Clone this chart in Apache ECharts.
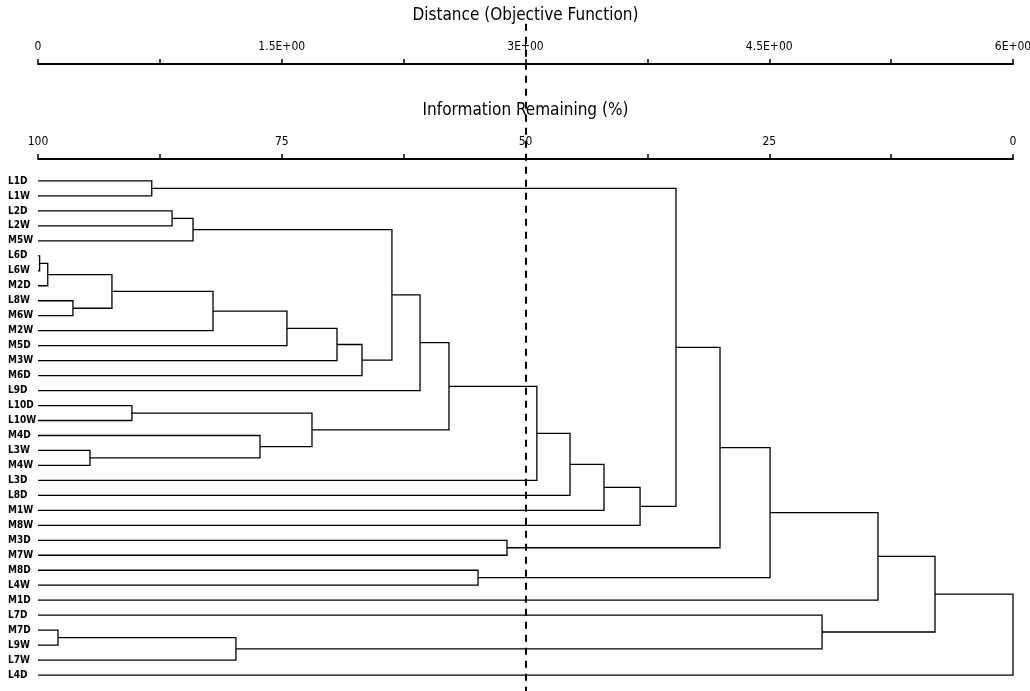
<!DOCTYPE html>
<html>
<head>
<meta charset="utf-8">
<script src="https://cdn.jsdelivr.net/npm/echarts@6/dist/echarts.min.js"></script>
<style>
html,body{margin:0;padding:0;background:#fff;}
#c{width:1030px;height:691px;}
</style>
</head>
<body>
<div id="c"></div>
<script>
// Leaves (top to bottom)
const leaves = ['L1D','L1W','L2D','L2W','M5W','L6D','L6W','M2D','L8W','M6W','M2W','M5D','M3W','M6D','L9D',
  'L10D','L10W','M4D','L3W','M4W','L3D','L8D','M1W','M8W','M3D','M7W','M8D','L4W','M1D','L7D','M7D','L9W','L7W','L4D'];
// Merges: node n<i> joins mergeA[i] and mergeB[i] at distance mergeDist[i]
const mergeA = ['L6D','n0','M7D','L8W','L3W','n1','L10D','L1D','L2D','n8','n5','n2','M4D','n10','n6','n13','n15','n9','n17','n18','M8D','M3D','n19','n22','n23','n24','n7','n26','n27','L7D','n28','n30','n31'];
const mergeB = ['L6W','M2D','L9W','M6W','M4W','n3','L10W','L1W','L2W','M5W','M2W','L7W','n4','M5D','n12','M3W','M6D','n16','L9D','n14','L4W','M7W','L3D','L8D','M1W','M8W','n25','n21','n20','n11','M1D','n29','L4D'];
const mergeDist = [0.01,0.06,0.123,0.215,0.32,0.455,0.578,0.70,0.825,0.954,1.077,1.218,1.366,1.532,1.686,1.84,1.994,2.178,2.351,2.529,2.708,2.886,3.07,3.274,3.483,3.705,3.926,4.197,4.505,4.825,5.169,5.52,6.0];
// Axis tick labels
const distTickLabels = ['0','','1.5E+00','','3E+00','','4.5E+00','','6E+00'];
const infoTickLabels = ['100','','75','','50','','25','','0'];
const cutDistance = 3.0;

const FONT = '"Liberation Sans Narrow","DejaVu Sans Condensed","Liberation Sans",sans-serif';

// build node positions
const pos = {};
leaves.forEach((n,i)=>{ pos[n] = {x:0, y:i}; });
const brackets = [];
mergeA.forEach((a,i)=>{
  const b = mergeB[i], h = mergeDist[i];
  const pa = pos[a], pb = pos[b];
  brackets.push({coords:[[pa.x,pa.y],[h,pa.y],[h,pb.y],[pb.x,pb.y]]});
  pos['n'+i] = {x:h, y:(pa.y+pb.y)/2};
});

const chart = echarts.init(document.getElementById('c'), null, {renderer:'canvas'});
const axisCommon = {
  type:'value', position:'top',
  axisLine:{show:true, onZero:false, lineStyle:{color:'#000', width:2}},
  axisTick:{show:true, inside:false, length:5, lineStyle:{color:'#000', width:1.5}},
  splitLine:{show:false},
  nameLocation:'middle',
  nameMoveOverlap:false,
  nameTextStyle:{fontFamily:FONT, fontSize:17, color:'#000'},
};
chart.setOption({
  animation:false,
  backgroundColor:'#fff',
  grid:{left:38, right:17, top:166, bottom:1, containLabel:false, outerBoundsMode:'none'},
  xAxis:[
    Object.assign({}, axisCommon, {
      min:0, max:6, interval:0.75, offset:102,
      name:'Distance (Objective Function)', nameGap:40,
      axisLabel:{fontFamily:FONT, fontSize:12, color:'#000', margin:11,
        formatter:(v)=>distTickLabels[Math.round(v/0.75)] || ''}
    }),
    Object.assign({}, axisCommon, {
      min:0, max:100, interval:12.5, inverse:true, offset:7,
      name:'Information Remaining (%)', nameGap:40,
      axisLabel:{fontFamily:FONT, fontSize:12, color:'#000', margin:11,
        formatter:(v)=>infoTickLabels[8-Math.round(v/12.5)] || ''}
    })
  ],
  yAxis:{
    type:'value', min:-1, max:34, interval:1, inverse:true,
    axisLine:{show:false}, axisTick:{show:false}, splitLine:{show:false},
    axisLabel:{fontFamily:FONT, fontSize:10, fontWeight:'bold', color:'#000', align:'left', margin:30,
      formatter:(v)=>leaves[v] || ''}
  },
  series:[
    {type:'lines', coordinateSystem:'cartesian2d', xAxisIndex:0, polyline:true, clip:false,
      lineStyle:{color:'#000', width:1.3, opacity:1}, data:brackets, silent:true},
    {type:'lines', coordinateSystem:'cartesian2d', xAxisIndex:0, clip:false,
      lineStyle:{color:'#000', width:2, type:[7,6], opacity:1},
      data:[{coords:[[cutDistance,-10.5],[cutDistance,34.5]]}], silent:true}
  ]
});
</script>
</body>
</html>
